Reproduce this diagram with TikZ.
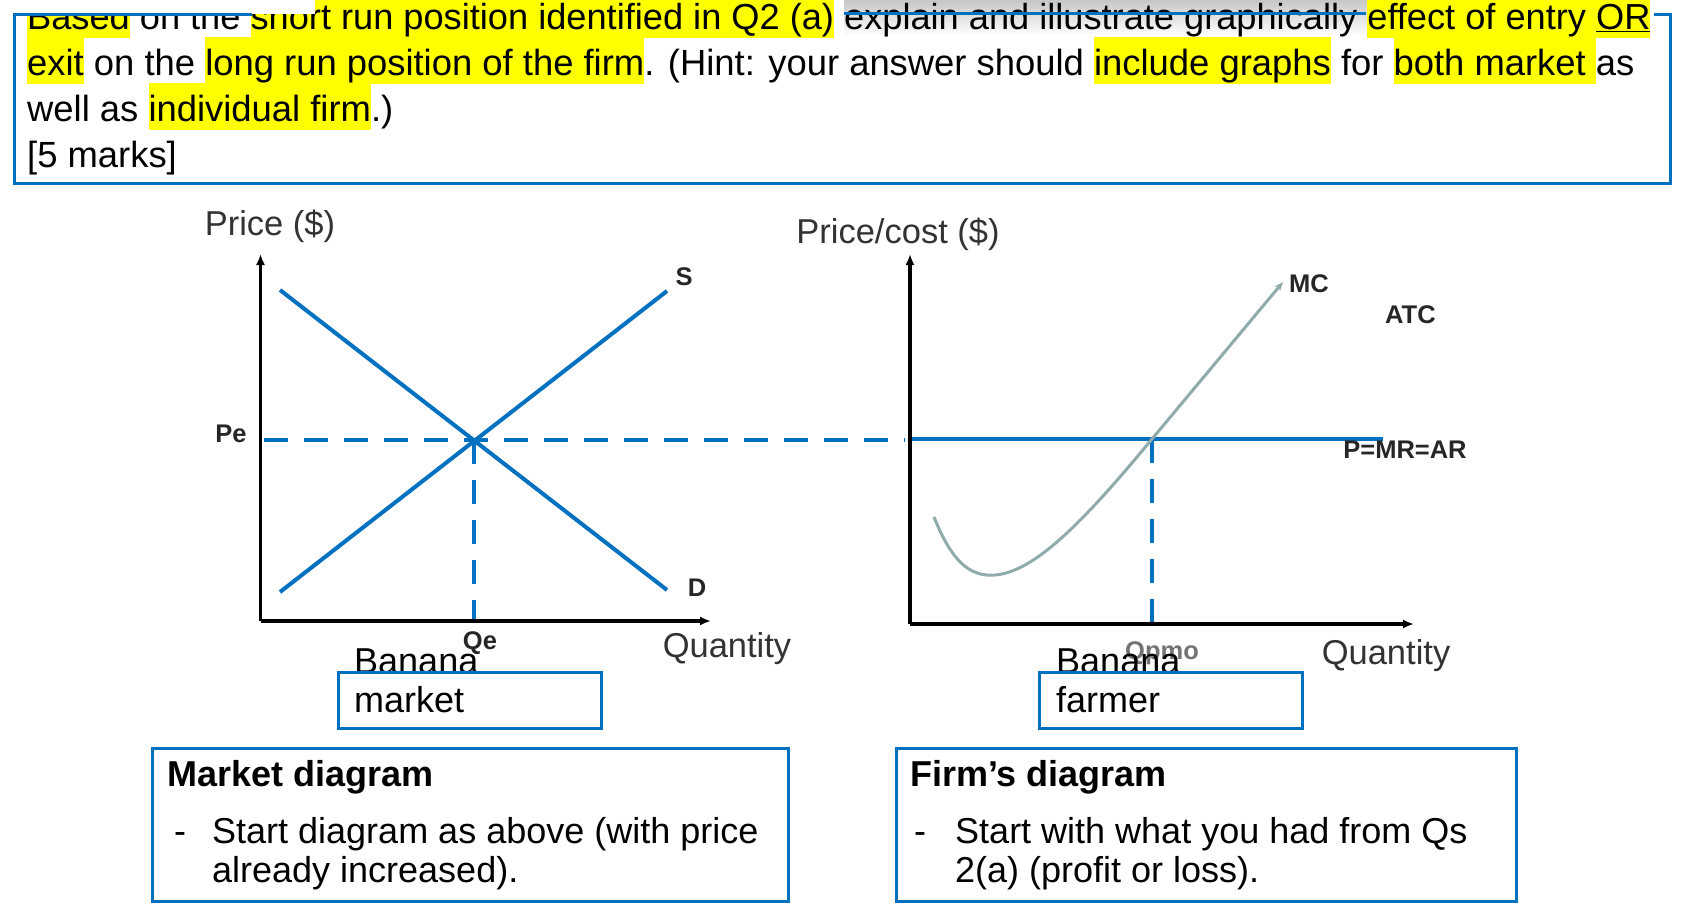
\documentclass[tikz,border=0pt]{standalone}
\usepackage{fontspec}
\setmainfont{Liberation Sans}
\usetikzlibrary{arrows.meta}
\definecolor{mblue}{HTML}{0070C0}
\definecolor{hly}{HTML}{FFFF00}
\definecolor{mcgray}{HTML}{8FABAB}
\newcommand{\hlt}[1]{{\setlength{\fboxsep}{0pt}\colorbox{hly}{\rule[-9pt]{0pt}{47pt}#1}}}
\begin{document}
\begin{tikzpicture}[x=1pt,y=-1pt,
  qtext/.style={anchor=base west, inner sep=0pt, font=\fontsize{36}{46}\selectfont},
  toptext/.style={anchor=base west, inner sep=0pt, font=\fontsize{36.4}{46}\selectfont},
  firsttext/.style={anchor=base west, inner sep=0pt, font=\fontsize{36.2}{46}\selectfont},
  qbold/.style={anchor=base west, inner sep=0pt, font=\bfseries\fontsize{36}{46}\selectfont},
  axisline/.style={line width=3.5pt, -{Latex[length=11pt,width=9pt]}},
  curveline/.style={mblue, line width=4pt},
  dashline/.style={mblue, line width=4pt, dash pattern=on 24pt off 16pt},
  mcline/.style={mcgray, line width=3pt, -{Stealth[length=9pt,width=7pt]}},
  blabel/.style={font=\bfseries\fontsize{25.5}{25.5}\selectfont, inner sep=0pt, text=black!85},
  alabel/.style={font=\fontsize{34.5}{34.5}\selectfont, inner sep=0pt, text=black!80},
  bbox/.style={draw=mblue, line width=3pt},
  tborder/.style={mblue, line width=3pt}
]
\useasboundingbox[fill=white] (0,0) rectangle (1688,910);

% ---------- question text ----------
\shade[top color=black!22, bottom color=white] (844,0) rectangle (1368,36);
\node[firsttext] (l1) at (27,29) {\hlt{Based} on the \hlt{short run position identified in Q2 (a)} explain and illustrate graphically \hlt{effect of entry \underline{OR}}};
\node[toptext] (l2) at (27,75) {\hlt{exit} on the \hlt{long run position of the firm}. (Hint: your answer should \hlt{include graphs} for \hlt{both market }as};
\node[toptext] (l3) at (27,121) {well as \hlt{individual firm}.)};
\node[toptext] (l4) at (27,167) {[5 marks]};
\fill[white] (-1,-1) rectangle (315,14);
\draw[tborder] (252,14.5) -- (14,14.5) -- (14,183) -- (1670,183) -- (1670,14.5) -- (1654,14.5);
\draw[tborder] (844,13.5) -- (1366,13.5);

% ---------- market graph ----------
\coordinate (O1) at (260.5,621);
\coordinate (Y1) at (260.5,254);
\coordinate (X1) at (711,621);
\coordinate (E1) at (474,440);
\coordinate (Dtop) at (280,290);
\coordinate (Dbot) at (667,590);
\coordinate (Sbot) at (280,592);
\coordinate (Stop) at (667,291);
\coordinate (PeL) at (264,440);
\coordinate (PeR) at (905,440);
\coordinate (QeB) at (474,621);
\draw[dashline] (PeL) -- (PeR);
\draw[dashline] (E1) -- (QeB);
\draw[curveline] (Dtop) -- (Dbot);
\draw[curveline] (Sbot) -- (Stop);
\draw[axisline] (O1) -- (Y1);
\draw[axisline] (O1) -- (X1);
\node[alabel] (p1) at (270,226) {Price (\$)};
\node[alabel] (q1) at (727,649) {Quantity};
\node[blabel] (pe) at (231,434) {Pe};
\node[blabel] (qe) at (480,643) {Qe};
\node[blabel] (sl) at (684,277) {S};
\node[blabel] (dl) at (697,588) {D};

% ---------- firm graph ----------
\coordinate (O2) at (910,624);
\coordinate (Y2) at (910,254);
\coordinate (X2) at (1414,624);
\coordinate (ARl) at (910,439);
\coordinate (ARr) at (1383,439);
\coordinate (E2) at (1152,439);
\coordinate (QpB) at (1152,624);
\coordinate (MC0) at (934,517);
\coordinate (MCm) at (995,575);
\coordinate (MC1) at (1283,282);
\draw[dashline] (E2) -- (QpB);
\draw[curveline] (ARl) -- (ARr);
\draw[mcline] (MC0) .. controls (952,562) and (970,577) .. (MCm) .. controls (1035,572) and (1085,520) .. (E2) -- (MC1);
\draw[axisline] (O2) -- (Y2);
\draw[axisline] (O2) -- (X2);
\node[alabel] (p2) at (898,234) {Price/cost (\$)};
\node[alabel] (q2) at (1386,656) {Quantity};
\node[blabel, anchor=west] (mc) at (1289,284) {MC};
\node[blabel, anchor=west] (atc) at (1385,315) {ATC};
\node[blabel] (ar) at (1405,450) {P=MR=AR};
\node[blabel, text=black!55] (qp) at (1162,653) {Qpmo};

% ---------- captions ----------
\node[qtext] (ban1) at (354,673) {Banana};
\node[qtext] (mkt) at (354,712) {market};
\draw[bbox] (338,672) rectangle (601,728);
\node[qtext] (ban2) at (1056,673) {Banana};
\node[qtext] (frm) at (1056,712) {farmer};
\draw[bbox] (1039,672) rectangle (1302,728);

% ---------- bottom boxes ----------
\draw[bbox] (152,748) rectangle (788,901);
\node[qbold] (mh) at (167,786) {Market diagram};
\node[qtext] (md) at (174,843) {-};
\node[qtext] (m1) at (212,843) {Start diagram as above (with price};
\node[qtext] (m2) at (212,882) {already increased).};
\draw[bbox] (896,748) rectangle (1516,901);
\node[qbold] (fh) at (910,786) {Firm’s diagram};
\node[qtext] (fd) at (914,843) {-};
\node[qtext] (f1) at (955,843) {Start with what you had from Qs};
\node[qtext] (f2) at (955,882) {2(a) (profit or loss).};
\end{tikzpicture}
\end{document}
